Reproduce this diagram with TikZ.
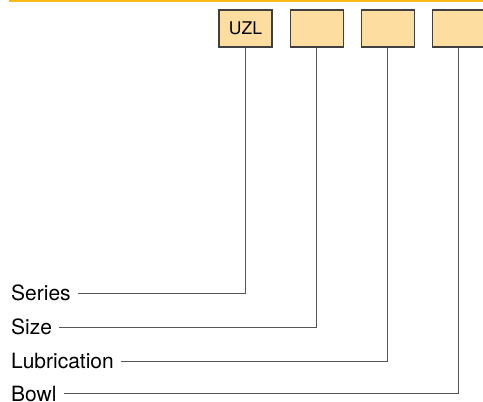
\documentclass[tikz,border=0pt]{standalone}
\usepackage{fontspec}
\setmainfont{TeX Gyre Heros}
\usetikzlibrary{positioning}

\definecolor{rulegold}{RGB}{247,186,20}
\definecolor{boxfill}{RGB}{253,222,160}
\definecolor{wiregray}{RGB}{85,85,85}

\tikzset{
    codebox/.style={draw=black!75, fill=boxfill, line width=1.1pt,
        minimum width=53pt, minimum height=37pt, inner sep=0pt,
        font=\fontsize{17.5}{17.5}\selectfont},
    fieldlabel/.style={anchor=west, inner sep=0pt, text height=15pt, text depth=0pt,
        font=\fontsize{21}{22}\selectfont},
    wire/.style={draw=wiregray, line width=0.9pt}
}

\begin{document}
\begin{tikzpicture}[x=1pt, y=-1pt]
    \useasboundingbox (0,0) rectangle (483,402);

    % gold rule along the top
    \draw[rulegold, line width=2pt] (9,1) -- (483,1);

    % the four code boxes
    \node[codebox] (series box) at (245.5,28.5) {UZL};
    \node[codebox, right=17pt of series box] (size box) {};
    \node[codebox, right=17pt of size box] (lub box) {};
    \node[codebox, right=17pt of lub box] (bowl box) {};

    % labels down the left side
    \node[fieldlabel] (series) at (11,293) {Series};
    \node[fieldlabel] (size) at (11,327) {Size};
    \node[fieldlabel] (lub) at (11,361) {Lubrication};
    \node[fieldlabel] (bowl) at (11,393.5) {Bowl};

    % leader from each label up to its box
    \draw[wire] ([xshift=7pt]series.east) -| (series box.south);
    \draw[wire] ([xshift=7pt]size.east) -| (size box.south);
    \draw[wire] ([xshift=7pt]lub.east) -| (lub box.south);
    \draw[wire] ([xshift=7pt]bowl.east) -| (bowl box.south);
\end{tikzpicture}
\end{document}
